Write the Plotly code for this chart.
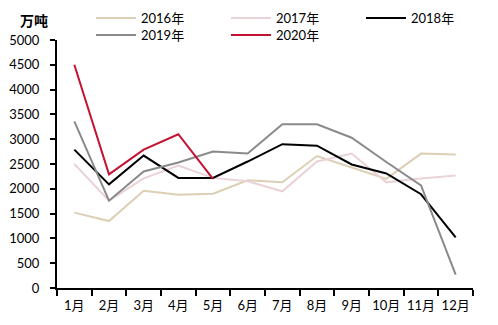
import plotly.graph_objects as go

months = ["1月", "2月", "3月", "4月", "5月", "6月", "7月", "8月", "9月", "10月", "11月", "12月"]
y2016 = [1520, 1350, 1960, 1880, 1900, 2170, 2130, 2660, 2430, 2200, 2710, 2690]
y2017 = [2500, 1760, 2210, 2470, 2220, 2150, 1950, 2550, 2710, 2130, 2210, 2270]
y2018 = [2790, 2090, 2670, 2220, 2220, 2550, 2900, 2870, 2490, 2310, 1890, 1020]
y2019 = [3360, 1760, 2350, 2530, 2750, 2710, 3300, 3300, 3030, 2540, 2070, 270]
y2020 = [4500, 2290, 2790, 3100, 2200]
y_ticks = [0, 500, 1000, 1500, 2000, 2500, 3000, 3500, 4000, 4500, 5000]

FONT = "Lato, 'Noto Sans CJK SC', sans-serif"

series = [
    ("2016年", y2016, "#DCCFB4", "legend"),
    ("2017年", y2017, "#EAD3D7", "legend"),
    ("2018年", y2018, "#000000", "legend"),
    ("2019年", y2019, "#8A8A8A", "legend2"),
    ("2020年", y2020, "#C41230", "legend2"),
]

fig = go.Figure()
for name, vals, color, lg in series:
    fig.add_trace(go.Scatter(
        x=months[:len(vals)], y=vals, name=name, mode="lines",
        line=dict(color=color, width=2), legend=lg,
    ))

legend_common = dict(
    orientation="h", xref="container", yref="container",
    xanchor="left", yanchor="top", entrywidth=80,
    font=dict(family=FONT, size=13, color="#000"),
    bgcolor="rgba(0,0,0,0)", itemwidth=40,
)

fig.update_layout(
    width=498, height=325,
    margin=dict(l=57, r=25, t=40, b=37, autoexpand=False),
    plot_bgcolor="white", paper_bgcolor="white",
    font=dict(family=FONT, size=13, color="#000"),
    showlegend=True,
    legend=dict(x=91 / 498, y=1 - 3 / 325, **legend_common),
    legend2=dict(x=91 / 498, y=1 - 20 / 325, **legend_common),
    xaxis=dict(
        type="category", categoryorder="array", categoryarray=months,
        showline=True, linecolor="#000", linewidth=2,
        ticks="outside", ticklen=6, tickwidth=1.5, tickcolor="#000",
        tickson="boundaries", showgrid=False, zeroline=False,
        tickfont=dict(family=FONT, size=13, color="#000"),
        tickangle=0,
        range=[-0.5, 11.5], ticklabelstandoff=4,
    ),
    yaxis=dict(
        range=[0, 5000], tickvals=y_ticks,
        showline=True, linecolor="#000", linewidth=2,
        ticks="outside", ticklen=5, tickwidth=1.5, tickcolor="#000",
        showgrid=False, zeroline=False,
        tickfont=dict(family=FONT, size=13, color="#000"),
        ticklabelstandoff=8,
    ),
    annotations=[dict(
        text="<b>万吨</b>", xref="paper", yref="paper",
        x=(18 - 57) / 416, y=1 + 19 / 248,
        xanchor="left", yanchor="middle", showarrow=False,
        font=dict(family=FONT, size=14, color="#000"),
    )],
)

fig.write_html("out.html")
